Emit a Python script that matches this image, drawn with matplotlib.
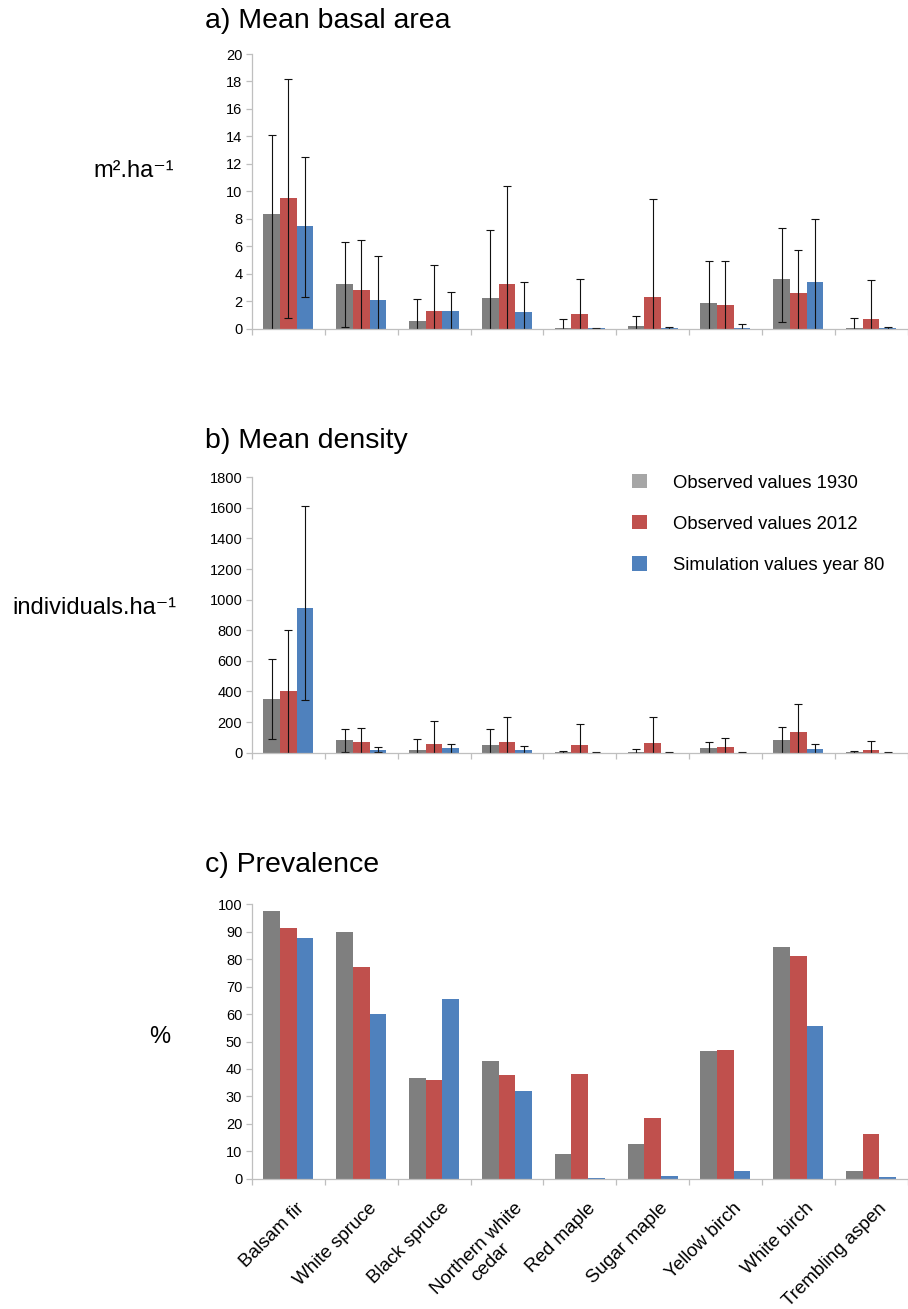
import matplotlib
matplotlib.use("Agg")
import matplotlib.pyplot as plt
from matplotlib.patches import Patch
from matplotlib.transforms import ScaledTranslation
import numpy as np

plt.rcParams["font.family"] = ["Liberation Sans", "DejaVu Sans"]

species = ["Balsam fir", "White spruce", "Black spruce", "Northern white\ncedar",
           "Red maple", "Sugar maple", "Yellow birch", "White birch", "Trembling aspen"]
series_labels = ["Observed values 1930", "Observed values 2012", "Simulation values year 80"]
bar_colors = ["#7F7F7F", "#C0504D", "#4F81BD"]
legend_colors = ["#A6A6A6", "#C0504D", "#4F81BD"]

# a) mean basal area (m2/ha) with error-bar ends
basal_1930 = [8.35, 3.23, 0.53, 2.26, 0.07, 0.19, 1.84, 3.64, 0.05]
basal_1930_lo = [0.0, 0.13, 0.0, 0.0, 0.0, 0.0, 0.0, 0.51, 0.0]
basal_1930_hi = [14.1, 6.33, 2.14, 7.16, 0.73, 0.92, 4.95, 7.35, 0.75]
basal_2012 = [9.5, 2.84, 1.29, 3.23, 1.04, 2.31, 1.72, 2.57, 0.73]
basal_2012_lo = [0.8, 0.0, 0.0, 0.0, 0.0, 0.0, 0.0, 0.0, 0.0]
basal_2012_hi = [18.2, 6.46, 4.66, 10.39, 3.62, 9.47, 4.95, 5.70, 3.54]
basal_sim = [7.45, 2.11, 1.29, 1.19, 0.02, 0.03, 0.05, 3.42, 0.03]
basal_sim_lo = [2.33, 0.0, 0.0, 0.0, 0.0, 0.0, 0.0, 0.0, 0.0]
basal_sim_hi = [12.5, 5.27, 2.69, 3.37, 0.05, 0.10, 0.32, 7.96, 0.10]

# b) mean density (individuals/ha) with error-bar ends
dens_1930 = [353, 81, 20, 52, 2, 3, 30, 81, 2]
dens_1930_lo = [89, 5, 0, 0, 0, 0, 0, 0, 0]
dens_1930_hi = [612, 157, 87, 155, 13, 22, 72, 166, 13]
dens_2012 = [401, 70, 54, 68, 52, 61, 35, 137, 17]
dens_2012_lo = [0, 0, 0, 0, 0, 0, 0, 0, 0]
dens_2012_hi = [800, 163, 205, 233, 185, 235, 94, 316, 76]
dens_sim = [948, 20, 28, 15, 1, 1, 1, 24, 1]
dens_sim_lo = [344, 4, 0, 0, 0, 0, 0, 0, 0]
dens_sim_hi = [1610, 39, 57, 44, 3, 2, 3, 57, 3]

# c) prevalence (%)
prev_1930 = [97.7, 89.9, 36.8, 43.0, 8.9, 12.8, 46.5, 84.4, 2.7]
prev_2012 = [91.3, 77.3, 35.8, 37.7, 38.3, 22.2, 47.0, 81.2, 16.2]
prev_sim = [87.6, 60.1, 65.6, 31.8, 0.4, 1.0, 2.9, 55.6, 0.5]

W, H = 908, 1309
fig = plt.figure(figsize=(W / 100, H / 100), dpi=100)
AX_COLOR = "#BFBFBF"
n = len(species)
bw = 0.229
xc = np.arange(n) + 0.5


def fig_rect(top_px, bottom_px, left_px=252, right_px=907.5):
    return [left_px / W, 1 - bottom_px / H, (right_px - left_px) / W, (bottom_px - top_px) / H]


def style_axis(ax, ymax, ystep, show_labels=False):
    ax.set_xlim(0, n)
    ax.set_ylim(0, ymax)
    ax.set_yticks(np.arange(0, ymax + ystep / 2, ystep))
    for s in ("top", "right"):
        ax.spines[s].set_visible(False)
    for s in ("left", "bottom"):
        ax.spines[s].set_color(AX_COLOR)
        ax.spines[s].set_linewidth(0.9)
    ax.tick_params(axis="y", direction="out", length=4, width=0.9, color=AX_COLOR,
                   labelsize=10.5, pad=3)
    ax.set_xticks(np.arange(n + 1), minor=True)
    ax.tick_params(axis="x", which="minor", direction="out", length=4, width=0.9, color=AX_COLOR)
    ax.set_xticks(xc)
    ax.tick_params(axis="x", which="major", length=0)
    if show_labels:
        ax.set_xticklabels(species, rotation=45, ha="right", va="top",
                           rotation_mode="anchor", fontsize=13.5, multialignment="center")
        ax.tick_params(axis="x", which="major", pad=15)
        shift = ScaledTranslation(7 / 100, 0, fig.dpi_scale_trans)
        for lab in ax.get_xticklabels():
            lab.set_transform(lab.get_transform() + shift)
    else:
        ax.set_xticklabels([])


def draw_bars(ax, series, lows=None, highs=None):
    for k, vals in enumerate(series):
        vals = np.asarray(vals, dtype=float)
        x = xc + (k - 1) * bw
        kw = {}
        if lows is not None:
            lo = vals - np.asarray(lows[k], dtype=float)
            hi = np.asarray(highs[k], dtype=float) - vals
            kw = dict(yerr=[lo, hi],
                      error_kw=dict(ecolor="#111111", elinewidth=0.8, capsize=3, capthick=0.8))
        ax.bar(x, vals, width=bw, color=bar_colors[k], label=series_labels[k],
               zorder=2, **kw)


# a) Mean basal area
ax_a = fig.add_axes(fig_rect(54, 328.7))
draw_bars(ax_a, [basal_1930, basal_2012, basal_sim],
          [basal_1930_lo, basal_2012_lo, basal_sim_lo],
          [basal_1930_hi, basal_2012_hi, basal_sim_hi])
style_axis(ax_a, 20, 2)

# b) Mean density
ax_b = fig.add_axes(fig_rect(477.3, 752.7))
draw_bars(ax_b, [dens_1930, dens_2012, dens_sim],
          [dens_1930_lo, dens_2012_lo, dens_sim_lo],
          [dens_1930_hi, dens_2012_hi, dens_sim_hi])
style_axis(ax_b, 1800, 200)

# c) Prevalence
ax_c = fig.add_axes(fig_rect(904.3, 1178.7))
draw_bars(ax_c, [prev_1930, prev_2012, prev_sim])
style_axis(ax_c, 100, 10, show_labels=True)

# panel titles
fig.text(205 / W, 1 - 21 / H, "a) Mean basal area", fontsize=20.5, ha="left", va="center")
fig.text(205 / W, 1 - 441 / H, "b) Mean density", fontsize=20.5, ha="left", va="center")
fig.text(205 / W, 1 - 865 / H, "c) Prevalence", fontsize=20.5, ha="left", va="center")

# unit labels
fig.text(174 / W, 1 - 171 / H, "m².ha⁻¹", fontsize=17, ha="right", va="center")
fig.text(176 / W, 1 - 608 / H, "individuals.ha⁻¹", fontsize=17, ha="right", va="center")
fig.text(160 / W, 1 - 1037 / H, "%", fontsize=17, ha="center", va="center")

# legend
handles = [Patch(facecolor=c, edgecolor="none") for c in legend_colors]
fig.legend(handles, series_labels, loc="upper left",
           bbox_to_anchor=(632 / W, 1 - 474 / H), frameon=False, fontsize=13.3,
           handlelength=0.81, handleheight=0.81, handletextpad=1.4,
           labelspacing=1.28, borderpad=0, borderaxespad=0)

fig.savefig("out.png", dpi=100)
